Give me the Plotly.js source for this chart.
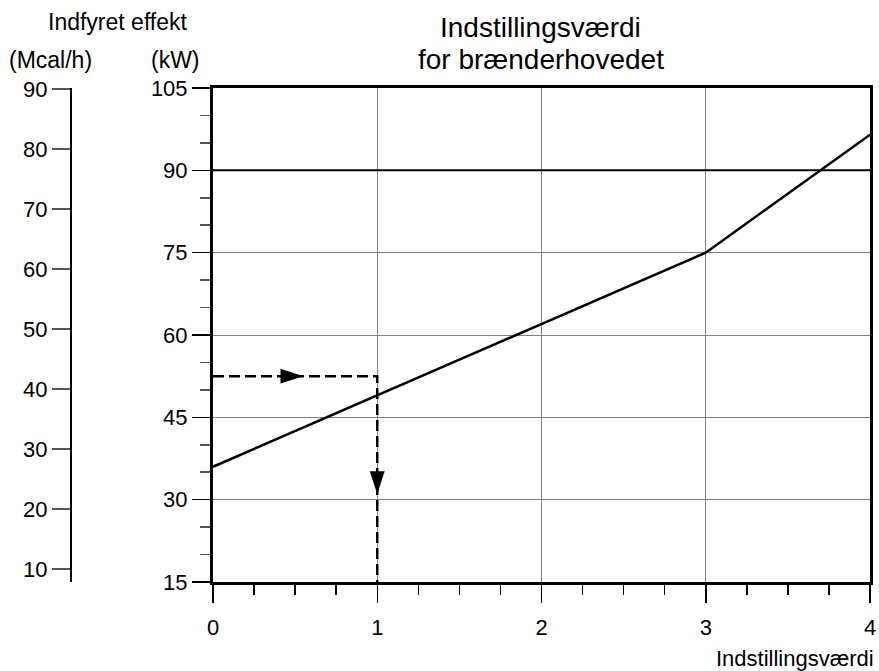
<!DOCTYPE html>
<html>
<head>
<meta charset="utf-8">
<script src="https://cdn.plot.ly/plotly-3.0.1.min.js"></script>
<style>html,body{margin:0;padding:0;background:#fff;}#chart{width:879px;height:671px;}</style>
</head>
<body>
<div id="chart"></div>
<script>
// Data
const settingX = [0, 1, 2, 3, 4];
const powerKW = [36, 49, 62, 75, 96.5];
const exampleX = [0, 1, 1];
const exampleY = [52.5, 52.5, 15];
const arrowRightX = [0.55];
const arrowRightY = [52.5];
const arrowDownX = [1];
const arrowDownY = [31];
const kwTicks = [15, 30, 45, 60, 75, 90, 105];
const mcalTicks = [10, 20, 30, 40, 50, 60, 70, 80, 90];
const xTicks = [0, 1, 2, 3, 4];
const highlightKW = 90;
const kwRange = [15, 105];
const mcalRange = [7.83, 90.17];
const titleLines = ['Indstillingsværdi', 'for brænderhovedet'];

const FONT = 'Liberation Sans, Arial, Helvetica, sans-serif';
const GRID = '#808080';

const traces = [
  {x: settingX, y: powerKW, mode: 'lines', line: {color: '#000', width: 2.5}, hoverinfo: 'skip', showlegend: false},
  {x: exampleX, y: exampleY, mode: 'lines', line: {color: '#000', width: 2.5, dash: '11px,5px'}, hoverinfo: 'skip', showlegend: false},
  {x: arrowRightX, y: arrowRightY, mode: 'markers', marker: {symbol: 'arrow', angle: 90, size: 24, color: '#000', line: {width: 0}}, hoverinfo: 'skip', showlegend: false, cliponaxis: false},
  {x: arrowDownX, y: arrowDownY, mode: 'markers', marker: {symbol: 'arrow', angle: 180, size: 24, color: '#000', line: {width: 0}}, hoverinfo: 'skip', showlegend: false, cliponaxis: false},
  {x: [0, 0], y: mcalRange, yaxis: 'y2', mode: 'lines', line: {width: 0, color: 'rgba(0,0,0,0)'}, hoverinfo: 'skip', showlegend: false}
];

const px = v => (v - 40) / 830;
const py = v => (582 - v) / 494;

const layout = {
  width: 879, height: 671,
  margin: {l: 40, r: 9, t: 88, b: 89},
  paper_bgcolor: '#fff', plot_bgcolor: '#fff',
  font: {family: FONT, size: 22, color: '#000'},
  showlegend: false,
  xaxis: {
    domain: [px(213), 1],
    range: [0, 4],
    tickvals: xTicks,
    ticks: 'outside', ticklen: 18, tickwidth: 1.5, tickcolor: '#000',
    ticklabelstandoff: 6,
    showgrid: true, gridcolor: GRID, gridwidth: 1,
    showline: true, linecolor: '#000', linewidth: 3, mirror: true,
    zeroline: false,
    minor: {dtick: 0.25, tick0: 0, ticks: 'outside', ticklen: 10, tickwidth: 1.5, tickcolor: '#000', showgrid: false},
    tickfont: {size: 22, family: FONT}
  },
  yaxis: {
    range: kwRange,
    tickvals: kwTicks,
    ticks: 'outside', ticklen: 18, tickwidth: 1.5, tickcolor: '#000',
    showgrid: true, gridcolor: GRID, gridwidth: 1,
    showline: true, linecolor: '#000', linewidth: 3, mirror: true,
    zeroline: false,
    minor: {dtick: 5, tick0: 15, ticks: 'outside', ticklen: 10, tickwidth: 1.5, tickcolor: '#555', showgrid: false},
    tickfont: {size: 22, family: FONT}
  },
  yaxis2: {
    overlaying: 'y', anchor: 'free', position: px(70), side: 'left',
    range: mcalRange,
    tickvals: mcalTicks,
    ticks: 'outside', ticklen: 18, tickwidth: 1.5, tickcolor: '#555',
    showgrid: false, zeroline: false,
    showline: true, linecolor: '#000', linewidth: 1.5,
    tickfont: {size: 22, family: FONT}
  },
  shapes: [
    {type: 'line', xref: 'x', yref: 'y', x0: 0, x1: 4, y0: highlightKW, y1: highlightKW, line: {color: '#000', width: 2}, layer: 'between'}
  ],
  annotations: [
    {text: titleLines[0], xref: 'paper', yref: 'paper', x: px(540.5), y: py(28), xanchor: 'center', yanchor: 'middle', showarrow: false, font: {size: 28, family: FONT}},
    {text: titleLines[1], xref: 'paper', yref: 'paper', x: px(540.5), y: py(60), xanchor: 'center', yanchor: 'middle', showarrow: false, font: {size: 28, family: FONT}},
    {text: 'Indfyret effekt', xref: 'paper', yref: 'paper', x: px(117.5), y: py(22), xanchor: 'center', yanchor: 'middle', showarrow: false, font: {size: 23, family: FONT}},
    {text: '(Mcal/h)', xref: 'paper', yref: 'paper', x: px(50), y: py(60), xanchor: 'center', yanchor: 'middle', showarrow: false, font: {size: 23, family: FONT}},
    {text: '(kW)', xref: 'paper', yref: 'paper', x: px(175), y: py(60), xanchor: 'center', yanchor: 'middle', showarrow: false, font: {size: 23, family: FONT}},
    {text: 'Indstillingsværdi', xref: 'paper', yref: 'paper', x: 1, xshift: 6, y: py(658), xanchor: 'right', yanchor: 'middle', showarrow: false, font: {size: 22, family: FONT}}
  ]
};

Plotly.newPlot('chart', traces, layout, {staticPlot: true, displayModeBar: false});
</script>
</body>
</html>
